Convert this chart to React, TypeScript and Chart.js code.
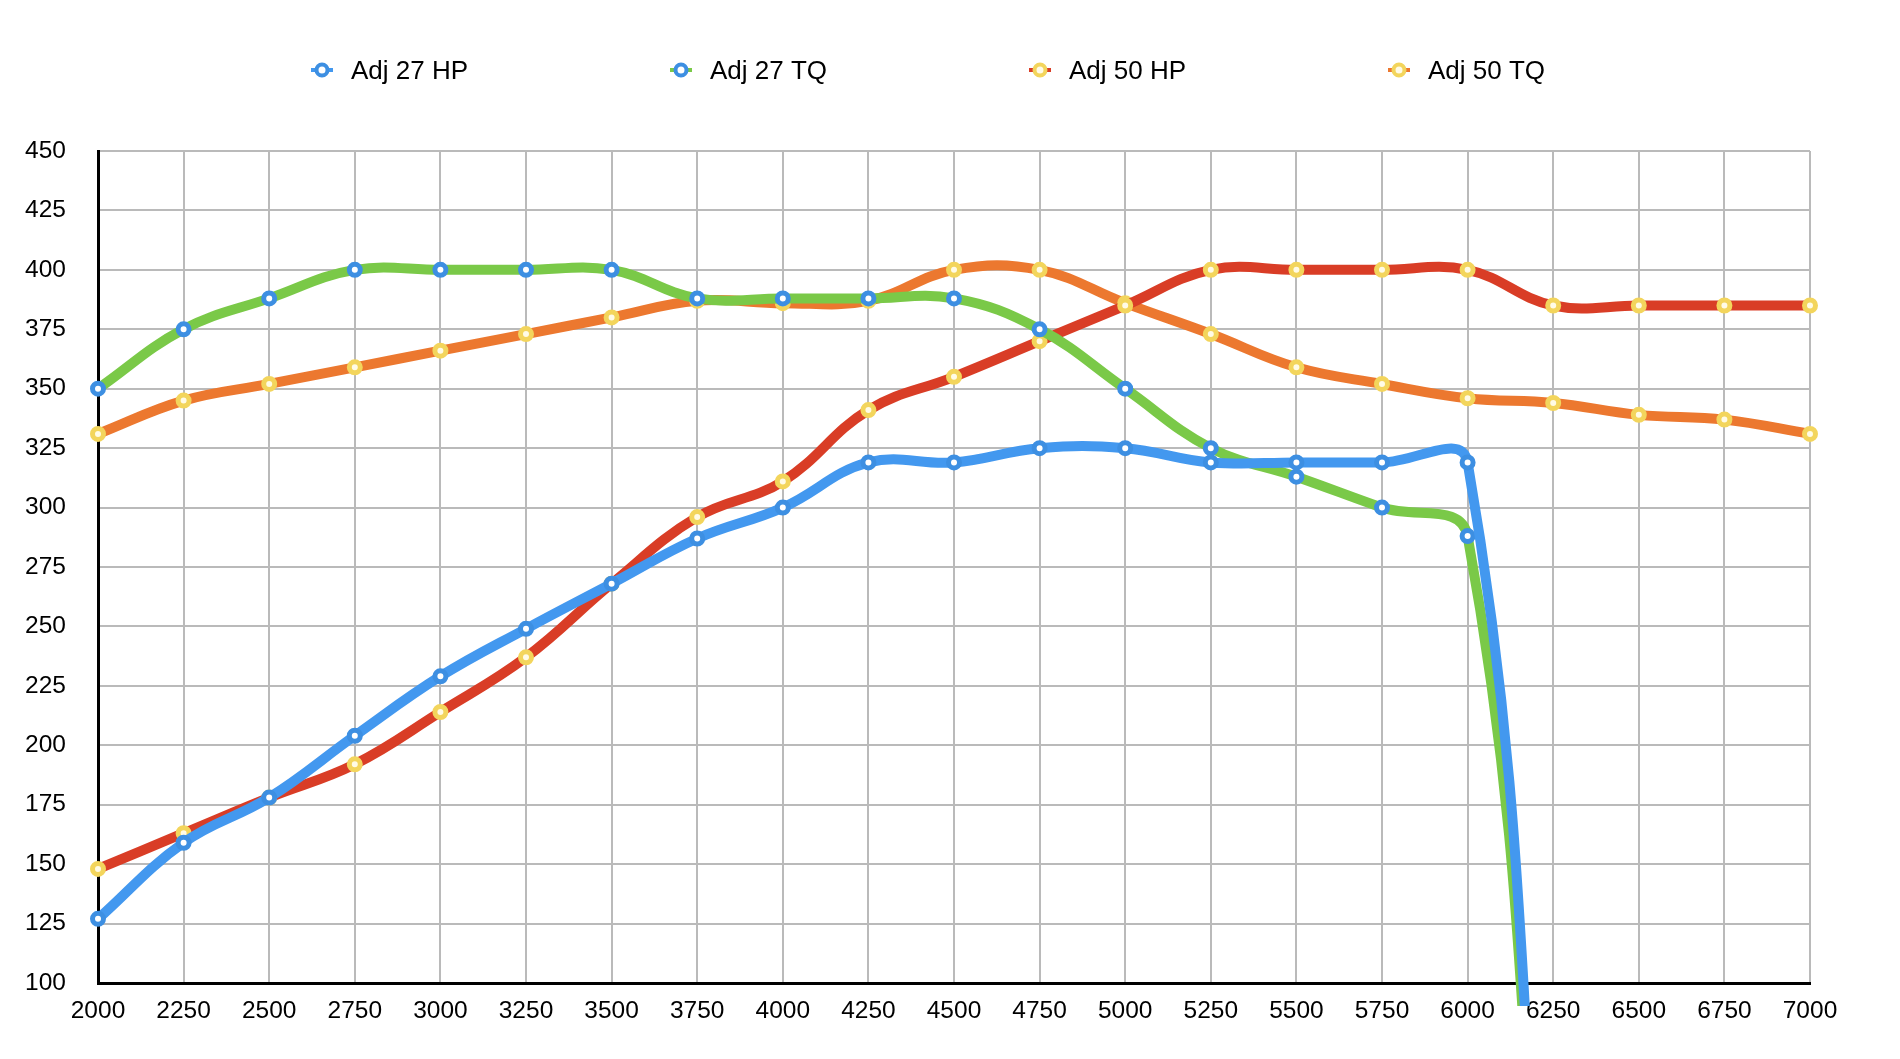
import React, { useEffect, useRef } from 'react';
import { Chart, registerables } from 'chart.js';

Chart.register(...registerables);

// Engine speed (rpm) along the x axis
const rpmLabels = [
  '2000', '2250', '2500', '2750', '3000', '3250', '3500', '3750', '4000', '4250', '4500',
  '4750', '5000', '5250', '5500', '5750', '6000', '6250', '6500', '6750', '7000',
];

// Adj 27 pulls stop just past 6000 rpm (the last value falls off the bottom of the scale)
const adj27Hp = [127, 159, 178, 204, 229, 249, 268, 287, 300, 319, 319, 325, 325, 319, 319, 319, 319, -95, null, null, null];
const adj27Tq = [350, 375, 388, 400, 400, 400, 400, 388, 388, 388, 388, 375, 350, 325, 313, 300, 288, -95, null, null, null];
const adj50Hp = [148, 163, 178, 192, 214, 237, 268, 296, 311, 341, 355, 370, 385, 400, 400, 400, 400, 385, 385, 385, 385];
const adj50Tq = [331, 345, 352, 359, 366, 373, 380, 387, 386, 387, 400, 400, 386, 373, 359, 352, 346, 344, 339, 337, 331];

const yTicksMin = 100;
const yTicksMax = 450;
const yStep = 25;

const FONT = '"Liberation Sans", Arial, Helvetica, sans-serif';

const BLUE_LINE = '#4398ef';
const GREEN_LINE = '#7ac948';
const RED_LINE = '#d93d26';
const ORANGE_LINE = '#ec782f';
const BLUE_RING = '#3d8fe2';
const YELLOW_RING = '#f3d55c';

// Legend laid out in one wide row above the plot
const spreadLegend = {
  id: 'spreadLegend',
  afterDraw(chart: any) {
    const { ctx } = chart;
    ctx.save();
    chart.data.datasets.forEach((ds: any, i: number) => {
      const cx = 322 + i * 359;
      const cy = 70;
      ctx.lineCap = 'butt';
      ctx.strokeStyle = ds.borderColor;
      ctx.lineWidth = 4;
      ctx.beginPath();
      ctx.moveTo(cx - 11, cy);
      ctx.lineTo(cx + 11, cy);
      ctx.stroke();
      ctx.beginPath();
      ctx.arc(cx, cy, 5.5, 0, Math.PI * 2);
      ctx.fillStyle = ds.pointBackgroundColor;
      ctx.fill();
      ctx.lineWidth = 4;
      ctx.strokeStyle = ds.pointBorderColor;
      ctx.stroke();
      ctx.fillStyle = '#000';
      ctx.font = `26px ${FONT}`;
      ctx.textAlign = 'left';
      ctx.textBaseline = 'alphabetic';
      ctx.fillText(ds.label, cx + 29, 79);
    });
    ctx.restore();
  },
};

function series(label: string, data: (number | null)[], line: string, ring: string, centre: string) {
  return {
    label,
    data,
    borderColor: line,
    backgroundColor: line,
    borderWidth: 10,
    tension: 0.4,
    borderJoinStyle: 'round' as const,
    pointRadius: (c: any) => (c.raw == null || c.raw < yTicksMin ? 0 : 5.5),
    pointHoverRadius: 0,
    pointBorderWidth: 5,
    pointBorderColor: ring,
    pointBackgroundColor: centre,
    clip: { left: 12, top: 12, right: 12, bottom: 23 },
  };
}

export default function App() {
  const canvasRef = useRef<HTMLCanvasElement | null>(null);

  useEffect(() => {
    if (!canvasRef.current) return;
    const chart = new Chart(canvasRef.current, {
      type: 'line',
      data: {
        labels: rpmLabels,
        datasets: [
          series('Adj 27 HP', adj27Hp, BLUE_LINE, BLUE_RING, '#ffffff'),
          series('Adj 27 TQ', adj27Tq, GREEN_LINE, BLUE_RING, '#ffffff'),
          series('Adj 50 HP', adj50Hp, RED_LINE, YELLOW_RING, '#fffbe6'),
          series('Adj 50 TQ', adj50Tq, ORANGE_LINE, YELLOW_RING, '#fffbe6'),
        ],
      },
      options: {
        responsive: false,
        animation: false,
        layout: { padding: { top: 151, right: 90, left: 0, bottom: 0 } },
        plugins: {
          legend: { display: false },
          tooltip: { enabled: false },
        },
        scales: {
          x: {
            type: 'category',
            grid: { color: '#bababa', lineWidth: 2, drawTicks: false },
            border: { display: true, color: '#000', width: 3 },
            ticks: {
              autoSkip: false,
              maxRotation: 0,
              color: '#000',
              padding: 14,
              font: { family: FONT, size: 24.5 },
            },
            afterFit: (scale: any) => {
              scale.height = 76;
            },
          },
          y: {
            min: yTicksMin,
            max: yTicksMax,
            grid: { color: '#bababa', lineWidth: 2, drawTicks: false },
            border: { display: true, color: '#000', width: 3 },
            ticks: {
              stepSize: yStep,
              color: '#000',
              padding: 32,
              font: { family: FONT, size: 24.5 },
            },
            afterFit: (scale: any) => {
              scale.width = 98;
            },
          },
        },
      },
      plugins: [spreadLegend],
    });
    return () => chart.destroy();
  }, []);

  return (
    <div style={{ position: 'fixed', left: 0, top: 0, width: 1900, height: 1059, background: '#fff' }}>
      <canvas ref={canvasRef} width={1900} height={1059} style={{ width: 1900, height: 1059, display: 'block' }} />
    </div>
  );
}
